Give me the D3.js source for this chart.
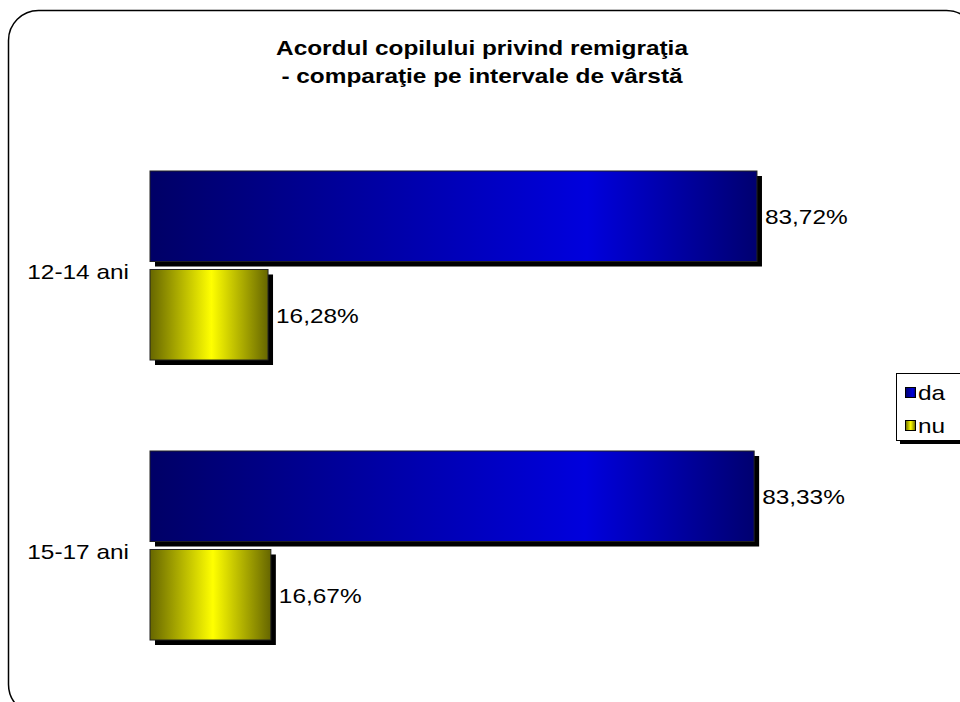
<!DOCTYPE html>
<html><head><meta charset="utf-8">
<script src="https://cdn.jsdelivr.net/npm/d3@7"></script>
<style>html,body{margin:0;padding:0;background:#fff;}svg{display:block;font-family:"Liberation Sans",Arial,sans-serif;}</style>
</head><body>
<script>
const categories = ["12-14 ani", "15-17 ani"];
const seriesNames = ["da", "nu"];
const daValues = [83.72, 83.33];
const nuValues = [16.28, 16.67];
const valueLabels = [["83,72%", "16,28%"], ["83,33%", "16,67%"]];
const titleLines = ["Acordul copilului privind remigraţia", "- comparaţie pe intervale de vârstă"];

const W = 960, H = 702;
const SX = 1.22; // horizontal stretch of the reference lettering
const svg = d3.select("body").append("svg").attr("width", W).attr("height", H);
const defs = svg.append("defs");

const gBlue = defs.append("linearGradient").attr("id", "gBlue").attr("x1", "0").attr("x2", "1").attr("y1", "0").attr("y2", "0");
gBlue.append("stop").attr("offset", "0%").attr("stop-color", "#000066");
gBlue.append("stop").attr("offset", "72%").attr("stop-color", "#0000dd");
gBlue.append("stop").attr("offset", "100%").attr("stop-color", "#000070");
const gYel = defs.append("linearGradient").attr("id", "gYel").attr("x1", "0").attr("x2", "1").attr("y1", "0").attr("y2", "0");
gYel.append("stop").attr("offset", "0%").attr("stop-color", "#666600");
gYel.append("stop").attr("offset", "52%").attr("stop-color", "#ffff00");
gYel.append("stop").attr("offset", "100%").attr("stop-color", "#666600");
const fills = {da: "url(#gBlue)", nu: "url(#gYel)"};

// frame
svg.append("rect").attr("x", 8.5).attr("y", 10.5).attr("width", 968).attr("height", 704)
  .attr("rx", 30).attr("ry", 30).attr("fill", "none").attr("stroke", "#000").attr("stroke-width", 1.5);

const tf = (x, y) => `translate(${x},${y}) scale(${SX},1)`;

// title
svg.append("g").selectAll("text").data(titleLines).join("text")
  .attr("transform", (d, i) => tf(482, 55 + i * 28))
  .attr("text-anchor", "middle").attr("font-size", 20).attr("font-weight", "bold").text(d => d);

const x = d3.scaleLinear().domain([0, 100]).range([150, 875]);
const y0 = d3.scaleBand().domain(categories).range([125.5, 685.5]).paddingInner(0.325).paddingOuter(0.1625);
const y1 = d3.scaleBand().domain(seriesNames).range([0, y0.bandwidth()]).paddingInner(0.081).paddingOuter(0);

const rows = [];
categories.forEach((c, i) => {
  rows.push({cat: c, s: "da", v: daValues[i], label: valueLabels[i][0]});
  rows.push({cat: c, s: "nu", v: nuValues[i], label: valueLabels[i][1]});
});

const bars = svg.append("g");
bars.selectAll("rect.sh").data(rows).join("rect").attr("class", "sh")
  .attr("x", x(0) + 5).attr("y", d => y0(d.cat) + y1(d.s) + 5)
  .attr("width", d => x(d.v) - x(0)).attr("height", y1.bandwidth()).attr("fill", "#000");
bars.selectAll("rect.bar").data(rows).join("rect").attr("class", "bar")
  .attr("x", x(0)).attr("y", d => y0(d.cat) + y1(d.s))
  .attr("width", d => x(d.v) - x(0)).attr("height", y1.bandwidth())
  .attr("fill", d => fills[d.s]).attr("stroke", "#222").attr("stroke-width", 1);
bars.selectAll("text.lbl").data(rows).join("text").attr("class", "lbl")
  .attr("transform", d => tf(x(d.v) + 8, y0(d.cat) + y1(d.s) + y1.bandwidth() / 2 + 8))
  .attr("font-size", 20).text(d => d.label);

svg.append("g").selectAll("text").data(categories).join("text")
  .attr("transform", d => tf(129, y0(d) + y0.bandwidth() / 2 + 13))
  .attr("text-anchor", "end").attr("font-size", 20).text(d => d);

// legend
const lg = svg.append("g");
lg.append("rect").attr("x", 900).attr("y", 377).attr("width", 70).attr("height", 67).attr("fill", "#000");
lg.append("rect").attr("x", 896.5).attr("y", 373.5).attr("width", 70).attr("height", 67).attr("fill", "#fff").attr("stroke", "#000");
seriesNames.forEach((s, i) => {
  lg.append("rect").attr("x", 905.5).attr("y", 387.5 + i * 33).attr("width", 10).attr("height", 10)
    .attr("fill", fills[s]).attr("stroke", "#000");
  lg.append("text").attr("transform", tf(918, 400 + i * 33)).attr("font-size", 20).text(s);
});
</script>
</body></html>
